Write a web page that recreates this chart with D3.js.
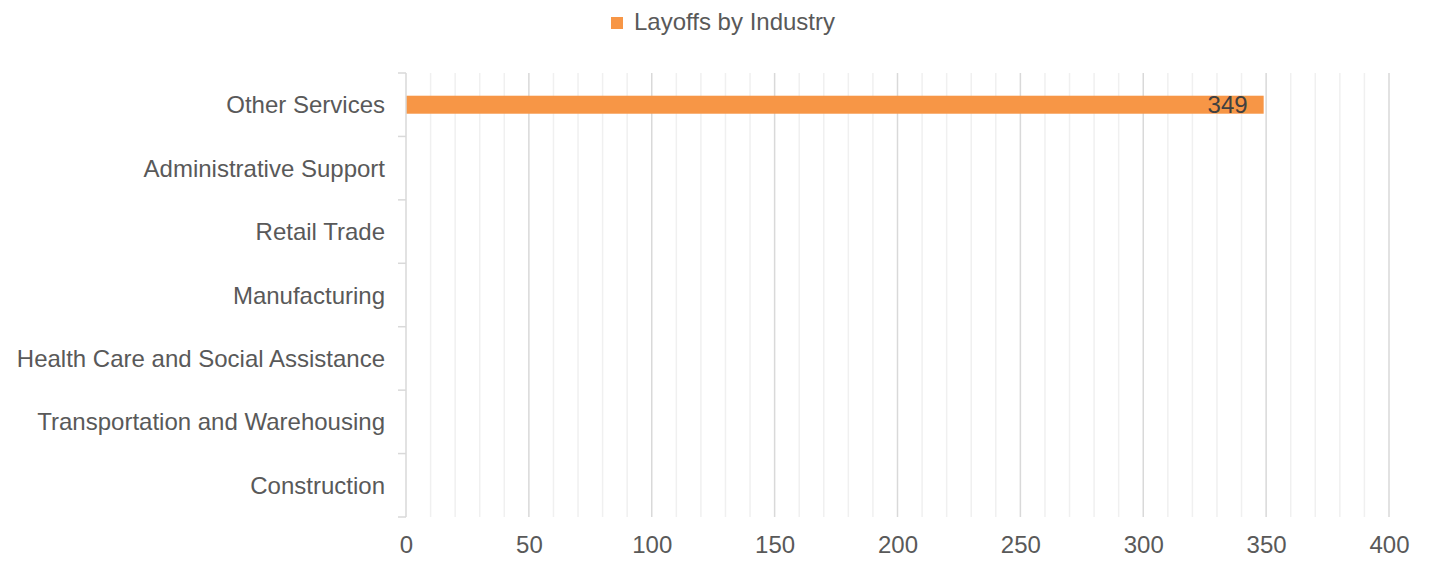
<!DOCTYPE html>
<html>
<head>
<meta charset="utf-8">
<script src="https://cdn.jsdelivr.net/npm/d3@7/dist/d3.min.js"></script>
<style>
  html, body { margin: 0; padding: 0; background: #fff; }
  svg { display: block; font-family: "Liberation Sans", Arial, sans-serif; }
</style>
</head>
<body>
<svg id="chart" width="1429" height="571"></svg>
<script>
// Industries, top to bottom
const industries = [
  "Other Services",
  "Administrative Support",
  "Retail Trade",
  "Manufacturing",
  "Health Care and Social Assistance",
  "Transportation and Warehousing",
  "Construction"
];
const layoffs = [349, 0, 0, 0, 0, 0, 0];
const xTicks = [0, 50, 100, 150, 200, 250, 300, 350, 400];
const seriesName = "Layoffs by Industry";

const svg = d3.select("#chart");
const margin = { top: 73, left: 406 };
const innerW = 1389 - margin.left;
const innerH = 517 - margin.top;
const fontSize = 24;

const g = svg.append("g").attr("transform", `translate(${margin.left},${margin.top})`);

const x = d3.scaleLinear().domain([0, 400]).range([0, innerW]);
const y = d3.scaleBand().domain(industries).range([0, innerH]);

// Minor gridlines every 10
const minor = d3.range(10, 400, 10).filter(v => v % 50 !== 0);
g.append("g").selectAll("line").data(minor).join("line")
  .attr("x1", d => x(d)).attr("x2", d => x(d))
  .attr("y1", 0).attr("y2", innerH)
  .attr("stroke", "#f0f0f0").attr("stroke-width", 1.5);

// Major gridlines every 50
g.append("g").selectAll("line").data(xTicks.filter(v => v > 0)).join("line")
  .attr("x1", d => x(d)).attr("x2", d => x(d))
  .attr("y1", 0).attr("y2", innerH)
  .attr("stroke", "#d9d9d9").attr("stroke-width", 1.5);

// Bars
const barH = 18;
g.append("g").selectAll("rect").data(industries).join("rect")
  .attr("x", x(0))
  .attr("y", (d) => y(d) + y.bandwidth() / 2 - barH / 2)
  .attr("width", (d, i) => x(layoffs[i]) - x(0))
  .attr("height", barH)
  .attr("fill", "#F79646");

// Value labels (inside end)
g.append("g").selectAll("text").data(industries.filter((d, i) => layoffs[i] > 0)).join("text")
  .attr("x", d => x(layoffs[industries.indexOf(d)]) - 16)
  .attr("y", d => y(d) + y.bandwidth() / 2 + 8.5)
  .attr("text-anchor", "end")
  .attr("font-size", fontSize)
  .attr("fill", "#404040")
  .text(d => layoffs[industries.indexOf(d)]);

// Left axis with ticks at band boundaries
const yAxisG = g.append("g");
yAxisG.append("line")
  .attr("x1", 0).attr("x2", 0).attr("y1", 0).attr("y2", innerH)
  .attr("stroke", "#d9d9d9").attr("stroke-width", 1.5);
const bounds = industries.map(d => y(d)).concat([innerH]);
yAxisG.selectAll("line.tick").data(bounds).join("line")
  .attr("class", "tick")
  .attr("x1", -8).attr("x2", 0)
  .attr("y1", d => d).attr("y2", d => d)
  .attr("stroke", "#d9d9d9").attr("stroke-width", 1.5);

// Category labels
g.append("g").selectAll("text").data(industries).join("text")
  .attr("x", -21)
  .attr("y", d => y(d) + y.bandwidth() / 2 + 8.5)
  .attr("text-anchor", "end")
  .attr("font-size", fontSize)
  .attr("fill", "#595959")
  .text(d => d);

// Bottom axis labels
const xAxis = d3.axisBottom(x).tickValues(xTicks).tickSize(0).tickPadding(0);
const xg = g.append("g").attr("transform", `translate(0,${innerH})`).call(xAxis);
xg.select(".domain").remove();
xg.selectAll("text")
  .attr("dy", 0)
  .attr("y", 36)
  .attr("font-size", fontSize)
  .attr("font-family", "Liberation Sans, Arial, sans-serif")
  .attr("fill", "#595959");

// Legend
const legend = svg.append("g");
legend.append("rect")
  .attr("x", 611).attr("y", 17).attr("width", 12).attr("height", 12)
  .attr("fill", "#F79646");
legend.append("text")
  .attr("x", 634).attr("y", 30)
  .attr("font-size", fontSize)
  .attr("fill", "#595959")
  .text(seriesName);
</script>
</body>
</html>
